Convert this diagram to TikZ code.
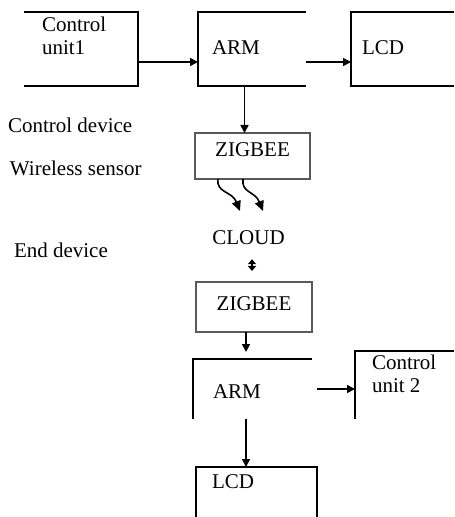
\documentclass[tikz,border=0pt]{standalone}
\usepackage{fontspec}
\setmainfont{Liberation Serif}
\usetikzlibrary{positioning,arrows.meta}
\newcommand{\diagfont}{\fontsize{10.5}{11.5}\selectfont}
\tikzset{
    diagframe/.style={inner sep=0pt, outer sep=0pt},
    diagblock/.style={draw=black!65, line width=1.2pt, inner sep=0pt, outer sep=0pt, align=center, font=\diagfont},
    diagtext/.style={inner sep=0pt, outer sep=0pt, align=left, font=\diagfont},
    diagedge/.style={draw, line width=0.8pt},
    diagarrow/.style={draw, line width=0.8pt, -{Triangle[length=4pt, width=4pt]}},
    diagwave/.style={draw, line width=0.8pt, -{Triangle[length=5pt, width=4.5pt]}},
    diaglink/.style={draw, line width=0.9pt, {Triangle[length=2.5pt, width=4pt]}-{Triangle[length=2.5pt, width=4pt]}}
}

\begin{document}
\begin{tikzpicture}[x=0.5pt, y=-0.5pt]
    \useasboundingbox (0,0) rectangle (454,517);

    % top row: control device
    \node[diagframe, minimum width=57pt, minimum height=37pt] (unita) at (81,49) {};
    \node[diagframe, minimum width=54pt, minimum height=37pt] (arma) at (252,49) {};
    \node[diagframe, minimum width=51.5pt, minimum height=37pt] (lcda) at (402.5,49) {};
    \draw[diagedge] (unita.north west) -- (unita.north east) -- (unita.south east) -- (unita.south west);
    \draw[diagedge] (arma.north east) -- (arma.north west) -- (arma.south west) -- (arma.south east);
    \draw[diagedge] (lcda.north east) -- (lcda.north west) -- (lcda.south west) -- (lcda.south east);
    \node[diagtext, anchor=base west] (unitatext) at (42,32) {Control};
    \node[diagtext, anchor=base west] (unitatextb) at (42,55) {unit1};
    \node[diagtext, anchor=base west] (armatext) at (212,55) {ARM};
    \node[diagtext, anchor=base west] (lcdatext) at (362,55) {LCD};

    % side labels
    \node[diagtext, anchor=base west] (ctrllabel) at (8,133) {Control device};
    \node[diagtext, anchor=base west] (wirelesslabel) at (10,176) {Wireless sensor};
    \node[diagtext, anchor=base west] (endlabel) at (14,257) {End device};

    % zigbee and cloud
    \node[diagblock, minimum width=57.5pt, minimum height=23pt, text depth=6pt] (ziga) at (252.5,156) {ZIGBEE};
    \node[diagtext, anchor=base] (cloud) at (248.5,245) {CLOUD};
    \node[diagblock, minimum width=58pt, minimum height=25pt, text depth=3.5pt] (zigb) at (254,307) {ZIGBEE};
    \coordinate (wavea) at (240,211);
    \coordinate (waveb) at (263,211);

    % bottom part: end device
    \node[diagframe, minimum width=59.5pt, minimum height=30pt] (armb) at (252.5,389) {};
    \node[diagframe, minimum width=49.5pt, minimum height=34pt] (unitb) at (404.5,385) {};
    \node[diagframe, minimum width=60.5pt, minimum height=25pt] (lcdb) at (256.5,492) {};
    \draw[diagedge] (armb.north east) -- (armb.north west) -- (armb.south west);
    \draw[diagedge] (unitb.north east) -- (unitb.north west) -- (unitb.south west);
    \draw[diagedge] (lcdb.south west) -- (lcdb.north west) -- (lcdb.north east) -- (lcdb.south east);
    \node[diagtext, anchor=base west] (armbtext) at (213,398) {ARM};
    \node[diagtext, anchor=base west] (unitbtext) at (372,369) {Control};
    \node[diagtext, anchor=base west] (unitbtextb) at (372,392) {unit 2};
    \node[diagtext, anchor=base west] (lcdbtext) at (212,488) {LCD};

    % connectors
    \draw[diagarrow] ([yshift=-6.5pt]unita.east) -- ([yshift=-6.5pt]arma.west);
    \draw[diagarrow] ([yshift=-6.5pt]arma.east) -- ([yshift=-6.5pt]lcda.west);
    \draw[diagarrow] ([xshift=-3.75pt]arma.south) -- ([xshift=-3.75pt]arma.south |- ziga.north);
    \draw[diagwave] ([xshift=-17.25pt]ziga.south) .. controls +(-2,14) and +(-8,-20) .. (wavea);
    \draw[diagwave] ([xshift=-4.75pt]ziga.south) .. controls +(-2,14) and +(-8,-20) .. (waveb);
    \draw[diaglink, shorten <=7pt, shorten >=5.5pt] ([xshift=1.75pt]cloud.south) -- ([xshift=1.75pt]cloud.south |- zigb.north);
    \draw[diagarrow, shorten >=3.5pt] ([xshift=-4pt]zigb.south) -- ([xshift=-4pt]zigb.south |- armb.north);
    \draw[diagarrow, shorten <=2.5pt] (armb.east) -- (armb.east -| unitb.west);
    \draw[diagarrow] ([xshift=-3.25pt]armb.south) -- ([xshift=-3.25pt]armb.south |- lcdb.north);
\end{tikzpicture}
\end{document}
